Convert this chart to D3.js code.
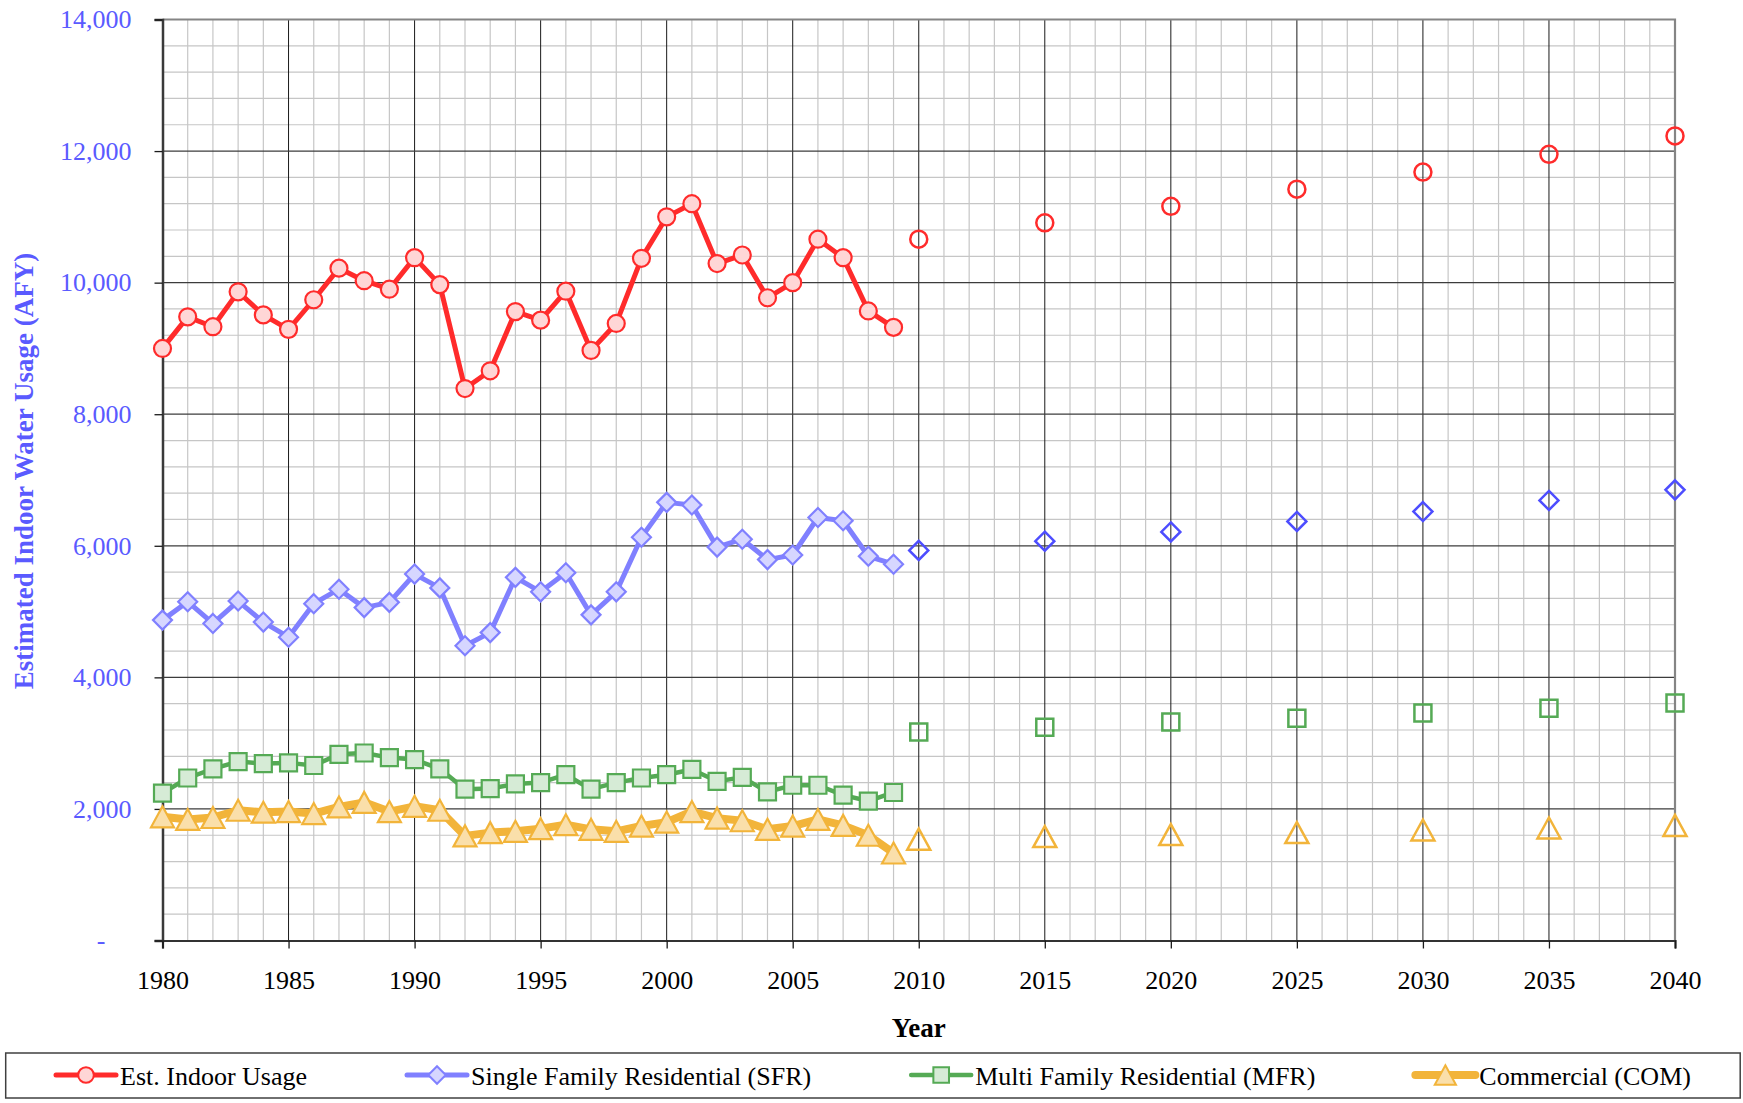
<html>
<head>
<meta charset="utf-8">
<title>Estimated Indoor Water Usage</title>
<script src="https://d3js.org/d3.v7.min.js"></script>
<style>
  body { margin: 0; background: #fff; }
  svg text { font-family: "Liberation Serif", "Times New Roman", Times, serif; }
</style>
</head>
<body>
<script>
// historic years (lines + filled markers) and projection years (hollow markers)
var histYears = [1980, 1981, 1982, 1983, 1984, 1985, 1986, 1987, 1988, 1989,
                 1990, 1991, 1992, 1993, 1994, 1995, 1996, 1997, 1998, 1999,
                 2000, 2001, 2002, 2003, 2004, 2005, 2006, 2007, 2008, 2009];
var projYears = [2010, 2015, 2020, 2025, 2030, 2035, 2040];

var indoorHist = [9000, 9480, 9330, 9860, 9510, 9290, 9740, 10220, 10030, 9900,
                  10380, 9970, 8390, 8660, 9560, 9430, 9870, 8970, 9380, 10370,
                  11000, 11200, 10290, 10420, 9770, 10000, 10660, 10380, 9570, 9320];
var indoorProj = [10660, 10910, 11160, 11420, 11680, 11950, 12230];

var sfrHist = [4870, 5150, 4820, 5160, 4840, 4610, 5120, 5340, 5060, 5140,
               5570, 5360, 4480, 4680, 5520, 5300, 5590, 4950, 5300, 6130,
               6660, 6620, 5980, 6100, 5790, 5860, 6430, 6380, 5840, 5720];
var sfrProj = [5930, 6070, 6210, 6370, 6520, 6690, 6850];

var mfrHist = [2240, 2470, 2610, 2720, 2690, 2700, 2660, 2830, 2850, 2780,
               2750, 2610, 2300, 2310, 2380, 2400, 2520, 2300, 2400, 2470,
               2520, 2600, 2420, 2480, 2260, 2360, 2360, 2210, 2120, 2250];
var mfrProj = [3170, 3240, 3320, 3380, 3460, 3530, 3610];

var comHist = [1880, 1840, 1870, 1980, 1950, 1960, 1930, 2030, 2100, 1960,
               2040, 1980, 1590, 1640, 1660, 1700, 1760, 1690, 1660, 1740,
               1800, 1960, 1860, 1820, 1690, 1740, 1840, 1750, 1600, 1330];
var comProj = [1540, 1580, 1610, 1640, 1680, 1710, 1750];

var seriesNames = ["Est. Indoor Usage", "Single Family Residential (SFR)",
                   "Multi Family Residential (MFR)", "Commercial (COM)"];
var xTicks = [1980, 1985, 1990, 1995, 2000, 2005, 2010, 2015, 2020, 2025, 2030, 2035, 2040];
var yTicks = [0, 2000, 4000, 6000, 8000, 10000, 12000, 14000];

var width = 1743, height = 1103;
var plotL = 162.5, plotR = 1675, plotT = 19.5, plotB = 940.5;
var serif = "'Liberation Serif', 'Times New Roman', Times, serif";

var svg = d3.select("body").append("svg")
  .attr("width", width)
  .attr("height", height)
  .style("font-family", serif);

var x = d3.scaleLinear().domain([1980, 2040]).range([plotL, plotR]);
var y = d3.scaleLinear().domain([0, 14000]).range([plotB, plotT]);

// grid
var grid = svg.append("g");
grid.selectAll(".vminor")
  .data(d3.range(1981, 2040).filter(function(d) { return d % 5 != 0; }))
  .enter().append("line")
    .attr("x1", function(d) { return x(d); }).attr("x2", function(d) { return x(d); })
    .attr("y1", plotT).attr("y2", plotB)
    .attr("stroke", "#c6c6c6").attr("stroke-width", 1.2);
grid.selectAll(".hminor")
  .data(d3.range(400, 14000, 400).filter(function(d) { return d % 2000 != 0; }))
  .enter().append("line")
    .attr("x1", plotL).attr("x2", plotR)
    .attr("y1", function(d) { return y(d); }).attr("y2", function(d) { return y(d); })
    .attr("stroke", "#c6c6c6").attr("stroke-width", 1.2);
grid.selectAll(".vmajor")
  .data(xTicks.slice(1, -1))
  .enter().append("line")
    .attr("x1", function(d) { return x(d); }).attr("x2", function(d) { return x(d); })
    .attr("y1", plotT).attr("y2", plotB)
    .attr("stroke", "#1a1a1a").attr("stroke-width", 1);
grid.selectAll(".hmajor")
  .data(yTicks.slice(1, -1))
  .enter().append("line")
    .attr("x1", plotL).attr("x2", plotR)
    .attr("y1", function(d) { return y(d); }).attr("y2", function(d) { return y(d); })
    .attr("stroke", "#3c3c3c").attr("stroke-width", 1.3);

// top and right border
svg.append("path")
  .attr("d", "M" + plotL + "," + plotT + "H" + plotR + "V" + plotB)
  .attr("fill", "none").attr("stroke", "#858585").attr("stroke-width", 2.2);

// axes
var yAxis = svg.append("g")
  .attr("transform", "translate(" + plotL + ",0)")
  .call(d3.axisLeft(y).tickValues(yTicks).tickSize(8).tickPadding(23)
    .tickFormat(function(d) { return d == 0 ? "-" : d3.format(",")(d); }));
yAxis.attr("font-family", serif).attr("font-size", 26);
yAxis.select(".domain").attr("stroke", "#3a3a3a").attr("stroke-width", 2.5);
yAxis.selectAll(".tick line").attr("stroke", "#1a1a1a").attr("stroke-width", 1.3);
yAxis.selectAll(".tick text").attr("fill", "#5a5aff");
yAxis.selectAll(".tick").filter(function(d) { return d == 0; }).select("text")
  .attr("x", -57);

var xAxis = svg.append("g")
  .attr("transform", "translate(0," + plotB + ")")
  .call(d3.axisBottom(x).tickValues(xTicks).tickSize(8).tickPadding(22)
    .tickFormat(d3.format("d")));
xAxis.attr("font-family", serif).attr("font-size", 26);
xAxis.select(".domain").attr("stroke", "#333").attr("stroke-width", 2.2);
xAxis.selectAll(".tick line").attr("stroke", "#1a1a1a").attr("stroke-width", 1.3);
xAxis.selectAll(".tick text").attr("fill", "#000");

// axis titles
svg.append("text")
  .attr("transform", "translate(33,471) rotate(-90)")
  .attr("text-anchor", "middle")
  .attr("fill", "#5a5aff")
  .style("font-size", "27px").style("font-weight", "bold")
  .text("Estimated Indoor Water Usage (AFY)");
svg.append("text")
  .attr("x", (plotL + plotR) / 2).attr("y", 1037)
  .attr("text-anchor", "middle")
  .style("font-size", "27px").style("font-weight", "bold")
  .text("Year");

// markers
function markerPath(shape) {
  if (shape == "circle") return d3.symbol().type(d3.symbolCircle).size(Math.PI * 8.5 * 8.5)();
  if (shape == "square") return "M-8.5,-8.5H8.5V8.5H-8.5Z";
  if (shape == "diamond") return "M0,-9.5L9.5,0L0,9.5L-9.5,0Z";
  return "M0,-10.5L11.5,10.5L-11.5,10.5Z";
}

var series = [
  { name: seriesNames[0], hist: indoorHist, proj: indoorProj, shape: "circle",
    line: "#ff2b2b", lw: 5, stroke: "#ff2b2b", fill: "#ffd6d6", projStroke: "#ff2b2b" },
  { name: seriesNames[1], hist: sfrHist, proj: sfrProj, shape: "diamond",
    line: "#8080ff", lw: 5, stroke: "#8080ff", fill: "#d6d6ff", projStroke: "#4d4dff" },
  { name: seriesNames[2], hist: mfrHist, proj: mfrProj, shape: "square",
    line: "#55aa55", lw: 4.5, stroke: "#55aa55", fill: "#d6ebd6", projStroke: "#55aa55" },
  { name: seriesNames[3], hist: comHist, proj: comProj, shape: "triangle",
    line: "#f2b43a", lw: 8, stroke: "#f2b43a", fill: "#fadfaa", projStroke: "#f2b43a" }
];

var line = d3.line()
  .x(function(d) { return x(d[0]); })
  .y(function(d) { return y(d[1]); });

series.forEach(function(s) {
  var g = svg.append("g");
  var pts = histYears.map(function(yr, i) { return [yr, s.hist[i]]; });
  g.append("path")
    .attr("d", line(pts))
    .attr("fill", "none").attr("stroke", s.line)
    .attr("stroke-width", s.lw).attr("stroke-linejoin", "round");
  g.selectAll(".hm").data(pts).enter().append("path")
    .attr("d", markerPath(s.shape))
    .attr("transform", function(d) { return "translate(" + x(d[0]) + "," + y(d[1]) + ")"; })
    .attr("fill", s.fill).attr("stroke", s.stroke).attr("stroke-width", 2.2);
  var ppts = projYears.map(function(yr, i) { return [yr, s.proj[i]]; });
  g.selectAll(".pm").data(ppts).enter().append("path")
    .attr("d", markerPath(s.shape))
    .attr("transform", function(d) { return "translate(" + x(d[0]) + "," + y(d[1]) + ")"; })
    .attr("fill", "none").attr("stroke", s.projStroke).attr("stroke-width", 2.5);
});

// legend
svg.append("rect")
  .attr("x", 5.7).attr("y", 1053).attr("width", 1734.5).attr("height", 45)
  .attr("fill", "#fff").attr("stroke", "#404040").attr("stroke-width", 1.5);

var lx = 56;
series.forEach(function(s) {
  var g = svg.append("g").attr("transform", "translate(" + lx + ",1075)");
  g.append("line").attr("x1", 0).attr("x2", 60)
    .attr("stroke", s.line).attr("stroke-width", s.lw).attr("stroke-linecap", "round");
  g.append("path").attr("d", markerPath(s.shape))
    .attr("transform", "translate(30,0) scale(0.92)")
    .attr("fill", s.fill).attr("stroke", s.stroke).attr("stroke-width", 2.2);
  var t = g.append("text").attr("x", 64).attr("y", 9.5)
    .style("font-size", "26px").text(s.name);
  lx += 64 + t.node().getComputedTextLength() + 100;
});
</script>
</body>
</html>
